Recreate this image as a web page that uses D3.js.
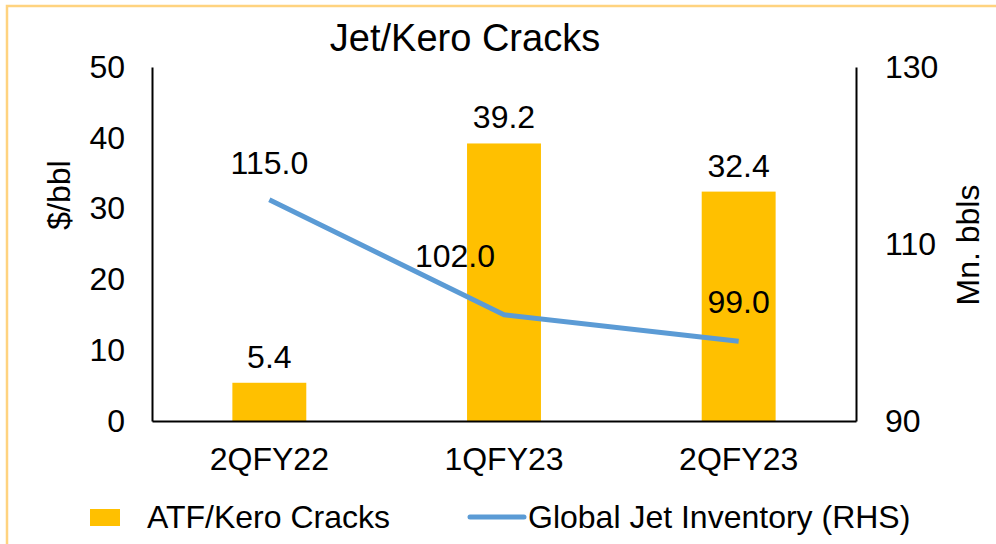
<!DOCTYPE html>
<html><head><meta charset="utf-8">
<script src="https://cdn.jsdelivr.net/npm/d3@7"></script>
<style>html,body{margin:0;padding:0;background:#fff;}svg{display:block;font-family:"Liberation Sans",Arial,sans-serif;}</style>
</head><body>
<script>
const categories = ["2QFY22", "1QFY23", "2QFY23"];
const crackValues = [5.4, 39.2, 32.4];
const inventoryValues = [115.0, 102.0, 99.0];
const leftTicks = [0, 10, 20, 30, 40, 50];
const rightTicks = [90, 110, 130];

const W = 996, H = 544;
const FS = 32;
const m = {left: 152, right: 856, top: 67, bottom: 421};
const svg = d3.select("body").append("svg").attr("width", W).attr("height", H);

svg.append("rect").attr("x", 7).attr("y", 6).attr("width", 1100).attr("height", 700)
  .attr("fill", "none").attr("stroke", "#FFD37F").attr("stroke-width", 2.5);

const x = d3.scaleBand().domain(categories).range([m.left, m.right]).padding(0);
const yL = d3.scaleLinear().domain([0, 50]).range([m.bottom, m.top]);
const yR = d3.scaleLinear().domain([90, 130]).range([m.bottom, m.top]);
const barW = x.bandwidth() * 0.315;
const cx = d => x(d) + x.bandwidth() / 2;

// bars
svg.selectAll(".bar").data(categories).join("rect")
  .attr("x", d => cx(d) - barW / 2)
  .attr("y", (d, i) => yL(crackValues[i]))
  .attr("width", barW)
  .attr("height", (d, i) => yL(0) - yL(crackValues[i]))
  .attr("fill", "#FFC000");

// axes
const axL = svg.append("g").attr("transform", `translate(${m.left},0)`)
  .call(d3.axisLeft(yL).tickValues(leftTicks).tickSize(0).tickPadding(27));
const axR = svg.append("g").attr("transform", `translate(${m.right},0)`)
  .call(d3.axisRight(yR).tickValues(rightTicks).tickSize(0).tickPadding(29));
const axB = svg.append("g").attr("transform", `translate(0,${m.bottom})`)
  .call(d3.axisBottom(x).tickSize(0).tickPadding(26));
[axL, axR, axB].forEach(g => {
  g.select(".domain").attr("stroke", "#000").attr("stroke-width", 2);
  g.selectAll("text").attr("font-size", FS).attr("fill", "#000")
    .attr("font-family", "Liberation Sans, Arial, sans-serif");
});

// line
const line = d3.line().x((d, i) => cx(categories[i])).y(d => yR(d));
svg.append("path").datum(inventoryValues).attr("d", line)
  .attr("fill", "none").attr("stroke", "#5B9BD5").attr("stroke-width", 5)
  .attr("stroke-linejoin", "round");

// bar labels
svg.selectAll(".bl").data(categories).join("text")
  .attr("x", d => cx(d)).attr("y", (d, i) => yL(crackValues[i]) - 15)
  .attr("text-anchor", "middle").attr("font-size", FS)
  .text((d, i) => crackValues[i].toFixed(1));

// line labels
const lblDx = [0, -49, 0];
const lblDy = [-26, -48, -28];
svg.selectAll(".ll").data(categories).join("text")
  .attr("x", (d, i) => cx(d) + lblDx[i]).attr("y", (d, i) => yR(inventoryValues[i]) + lblDy[i])
  .attr("text-anchor", "middle").attr("font-size", FS)
  .text((d, i) => inventoryValues[i].toFixed(1));

// title
svg.append("text").attr("x", 465).attr("y", 51).attr("text-anchor", "middle")
  .attr("font-size", 38).text("Jet/Kero Cracks");

// axis titles
svg.append("text").attr("transform", "translate(70,195) rotate(-90)")
  .attr("text-anchor", "middle").attr("font-size", FS).text("$/bbl");
svg.append("text").attr("transform", "translate(979,245) rotate(-90)")
  .attr("text-anchor", "middle").attr("font-size", FS).text("Mn. bbls");

// legend
svg.append("rect").attr("x", 90).attr("y", 509).attr("width", 30).attr("height", 17).attr("fill", "#FFC000");
svg.append("text").attr("x", 147).attr("y", 528).attr("font-size", FS).text("ATF/Kero Cracks");
svg.append("line").attr("x1", 470).attr("x2", 524).attr("y1", 517).attr("y2", 517)
  .attr("stroke", "#5B9BD5").attr("stroke-width", 5).attr("stroke-linecap", "round");
svg.append("text").attr("x", 528).attr("y", 528).attr("font-size", FS).text("Global Jet Inventory (RHS)");
</script>
</body></html>
